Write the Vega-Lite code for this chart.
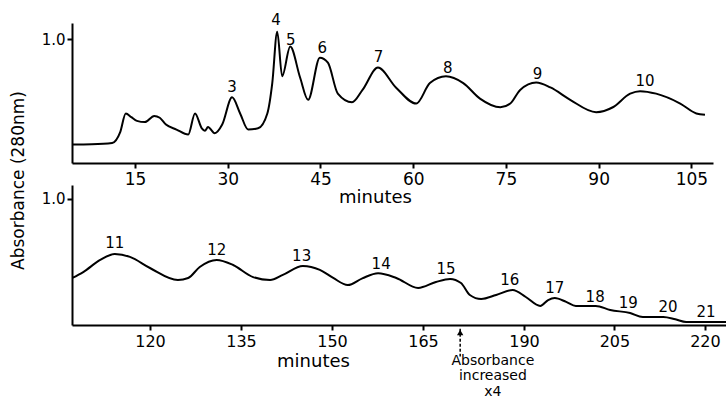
{
  "$schema": "https://vega.github.io/schema/vega-lite/v6.json",
  "autosize": "pad",
  "padding": {"left": 9, "top": 13, "right": 0, "bottom": 0},
  "bounds": "flush",
  "spacing": 22,
  "background": "white",
  "config": {
    "font": "DejaVu Sans",
    "view": {"stroke": null},
    "axis": {
      "domainColor": "black", "domainWidth": 2, "tickColor": "black", "tickWidth": 2,
      "labelColor": "black", "titleColor": "black", "grid": false, "titleFontWeight": "normal"
    }
  },
  "datasets": {
    "top": [
      {"min": 4.8, "abs": 0.15}, {"min": 8, "abs": 0.152}, {"min": 11.3, "abs": 0.162},
      {"min": 12.6, "abs": 0.25}, {"min": 13.5, "abs": 0.4}, {"min": 14.4, "abs": 0.37},
      {"min": 15.3, "abs": 0.34}, {"min": 16.6, "abs": 0.33}, {"min": 18.1, "abs": 0.38},
      {"min": 19.0, "abs": 0.365}, {"min": 20.0, "abs": 0.31}, {"min": 21.7, "abs": 0.27},
      {"min": 23.6, "abs": 0.23}, {"min": 24.7, "abs": 0.4}, {"min": 25.8, "abs": 0.28},
      {"min": 26.3, "abs": 0.26}, {"min": 26.8, "abs": 0.29}, {"min": 27.9, "abs": 0.24},
      {"min": 29.1, "abs": 0.31}, {"min": 30.7, "abs": 0.53}, {"min": 32.0, "abs": 0.4},
      {"min": 33.3, "abs": 0.27}, {"min": 34.9, "abs": 0.28}, {"min": 36.4, "abs": 0.4},
      {"min": 37.2, "abs": 0.645}, {"min": 38.0, "abs": 1.06}, {"min": 38.8, "abs": 0.7},
      {"min": 40.1, "abs": 0.94}, {"min": 41.7, "abs": 0.69}, {"min": 43.0, "abs": 0.51},
      {"min": 44.9, "abs": 0.85}, {"min": 46.2, "abs": 0.81}, {"min": 47.8, "abs": 0.56},
      {"min": 50.1, "abs": 0.49}, {"min": 51.8, "abs": 0.59}, {"min": 54.3, "abs": 0.77},
      {"min": 57.2, "abs": 0.61}, {"min": 60.5, "abs": 0.48}, {"min": 62.7, "abs": 0.645},
      {"min": 65.3, "abs": 0.7}, {"min": 68.1, "abs": 0.645}, {"min": 70.8, "abs": 0.52},
      {"min": 74.1, "abs": 0.45}, {"min": 75.7, "abs": 0.48}, {"min": 77.3, "abs": 0.59},
      {"min": 79.9, "abs": 0.65}, {"min": 82.2, "abs": 0.61}, {"min": 85.4, "abs": 0.51},
      {"min": 89.6, "abs": 0.41}, {"min": 92.3, "abs": 0.45}, {"min": 95.1, "abs": 0.56},
      {"min": 96.7, "abs": 0.58}, {"min": 99.3, "abs": 0.56}, {"min": 103.2, "abs": 0.48},
      {"min": 105.8, "abs": 0.4}, {"min": 107.2, "abs": 0.39}
    ],
    "topLabels": [
      {"min": 30.7, "abs": 0.613, "label": "3"}, {"min": 37.8, "abs": 1.153, "label": "4"},
      {"min": 40.2, "abs": 0.992, "label": "5"}, {"min": 45.3, "abs": 0.927, "label": "6"},
      {"min": 54.4, "abs": 0.855, "label": "7"}, {"min": 65.6, "abs": 0.766, "label": "8"},
      {"min": 80.1, "abs": 0.718, "label": "9"}, {"min": 97.5, "abs": 0.661, "label": "10"}
    ],
    "bottom": [
      {"min": 107.2, "abs": 0.373}, {"min": 109.0, "abs": 0.42}, {"min": 111.8, "abs": 0.516},
      {"min": 114.2, "abs": 0.563}, {"min": 116.7, "abs": 0.54}, {"min": 120.0, "abs": 0.452},
      {"min": 124.6, "abs": 0.357}, {"min": 126.3, "abs": 0.373}, {"min": 128.2, "abs": 0.46},
      {"min": 131.0, "abs": 0.516}, {"min": 133.7, "abs": 0.476}, {"min": 137.0, "abs": 0.38},
      {"min": 139.8, "abs": 0.357}, {"min": 141.9, "abs": 0.397}, {"min": 145.2, "abs": 0.468},
      {"min": 148.0, "abs": 0.437}, {"min": 150.2, "abs": 0.373}, {"min": 152.6, "abs": 0.317},
      {"min": 155.0, "abs": 0.37}, {"min": 157.6, "abs": 0.41}, {"min": 160.6, "abs": 0.373},
      {"min": 164.2, "abs": 0.294}, {"min": 168.2, "abs": 0.341}, {"min": 171.7, "abs": 0.365},
      {"min": 174.4, "abs": 0.333}, {"min": 176.6, "abs": 0.238}, {"min": 179.4, "abs": 0.206},
      {"min": 183.1, "abs": 0.238}, {"min": 187.2, "abs": 0.278}, {"min": 190.3, "abs": 0.222},
      {"min": 192.7, "abs": 0.151}, {"min": 194.0, "abs": 0.198}, {"min": 195.1, "abs": 0.214},
      {"min": 197.0, "abs": 0.183}, {"min": 198.6, "abs": 0.151}, {"min": 201.9, "abs": 0.151},
      {"min": 204.3, "abs": 0.119}, {"min": 207.6, "abs": 0.095}, {"min": 209.7, "abs": 0.063},
      {"min": 213.1, "abs": 0.063}, {"min": 215.1, "abs": 0.045}, {"min": 216.9, "abs": 0.024},
      {"min": 220.2, "abs": 0.024}, {"min": 223.5, "abs": 0.024}
    ],
    "bottomLabels": [
      {"min": 114.2, "abs": 0.651, "label": "11"}, {"min": 131.0, "abs": 0.595, "label": "12"},
      {"min": 145.0, "abs": 0.548, "label": "13"}, {"min": 158.1, "abs": 0.484, "label": "14"},
      {"min": 170.7, "abs": 0.444, "label": "15"}, {"min": 186.5, "abs": 0.357, "label": "16"},
      {"min": 195.1, "abs": 0.294, "label": "17"}, {"min": 201.8, "abs": 0.222, "label": "18"},
      {"min": 207.3, "abs": 0.175, "label": "19"}, {"min": 213.9, "abs": 0.143, "label": "20"},
      {"min": 220.2, "abs": 0.103, "label": "21"}
    ],
    "arrow": [{"min": 174.2, "from": -0.03, "to": -0.25, "head": -0.06}],
    "note": [{"min": 182.3, "abs": -0.317, "text": "Absorbance\nincreased\nx4"}]
  },
  "vconcat": [
    {
      "width": 641,
      "height": 140,
      "layer": [
        {
          "data": {"name": "top"},
          "mark": {"type": "line", "color": "black", "strokeWidth": 2, "interpolate": "monotone"},
          "encoding": {
            "x": {
              "field": "min", "type": "quantitative",
              "scale": {"domain": [4.8, 108.5], "nice": false, "zero": false},
              "axis": {
                "values": [15, 30, 45, 60, 75, 90, 105], "tickSize": 5, "labelFontSize": 17, "labelPadding": 3,
                "title": "minutes", "titleFontSize": 18, "titleX": 303, "titleY": 39,
                "titleBaseline": "alphabetic", "titleAlign": "center"
              }
            },
            "y": {
              "field": "abs", "type": "quantitative",
              "scale": {"domain": [0, 1.13], "nice": false},
              "axis": {
                "values": [1], "format": ".1f", "tickSize": 5, "labelFontSize": 15, "labelPadding": 2,
                "title": "Absorbance (280nm)", "titleFontSize": 17, "titleX": -54, "titleY": 157,
                "titleAngle": 270, "titleAlign": "center", "titleBaseline": "middle"
              }
            }
          }
        },
        {
          "data": {"name": "topLabels"},
          "mark": {"type": "text", "fontSize": 15, "color": "black", "clip": false, "align": "center", "baseline": "middle"},
          "encoding": {
            "x": {"field": "min", "type": "quantitative"},
            "y": {"field": "abs", "type": "quantitative"},
            "text": {"field": "label"}
          }
        }
      ]
    },
    {
      "width": 654,
      "height": 140,
      "layer": [
        {
          "data": {"name": "bottom"},
          "mark": {"type": "line", "color": "black", "strokeWidth": 2, "interpolate": "monotone"},
          "encoding": {
            "x": {
              "field": "min", "type": "quantitative",
              "scale": {"domain": [107.15, 165, 190, 223.5], "range": [0, 351, 452, 654], "nice": false, "zero": false},
              "axis": {
                "values": [120, 135, 150, 165, 190, 205, 220], "tickSize": 5, "labelFontSize": 16, "labelPadding": 3,
                "title": "minutes", "titleFontSize": 18, "titleX": 241, "titleY": 41,
                "titleBaseline": "alphabetic", "titleAlign": "center"
              }
            },
            "y": {
              "field": "abs", "type": "quantitative",
              "scale": {"domain": [0, 1.11], "nice": false},
              "axis": {"values": [1], "format": ".1f", "tickSize": 5, "labelFontSize": 15, "labelPadding": 2, "title": null}
            }
          }
        },
        {
          "data": {"name": "bottomLabels"},
          "mark": {"type": "text", "fontSize": 15, "color": "black", "clip": false, "align": "center", "baseline": "middle"},
          "encoding": {
            "x": {"field": "min", "type": "quantitative"},
            "y": {"field": "abs", "type": "quantitative"},
            "text": {"field": "label"}
          }
        },
        {
          "data": {"name": "arrow"},
          "mark": {"type": "rule", "color": "black", "strokeWidth": 1.5, "strokeDash": [3, 2], "clip": false},
          "encoding": {
            "x": {"field": "min", "type": "quantitative"},
            "y": {"field": "from", "type": "quantitative"},
            "y2": {"field": "to"}
          }
        },
        {
          "data": {"name": "arrow"},
          "mark": {"type": "point", "shape": "triangle-up", "filled": true, "color": "black", "size": 40, "opacity": 1, "clip": false},
          "encoding": {
            "x": {"field": "min", "type": "quantitative"},
            "y": {"field": "head", "type": "quantitative"}
          }
        },
        {
          "data": {"name": "note"},
          "mark": {"type": "text", "fontSize": 14, "color": "black", "clip": false, "align": "center", "baseline": "alphabetic", "lineBreak": "\n", "lineHeight": 15.5},
          "encoding": {
            "x": {"field": "min", "type": "quantitative"},
            "y": {"field": "abs", "type": "quantitative"},
            "text": {"field": "text"}
          }
        }
      ]
    }
  ]
}
